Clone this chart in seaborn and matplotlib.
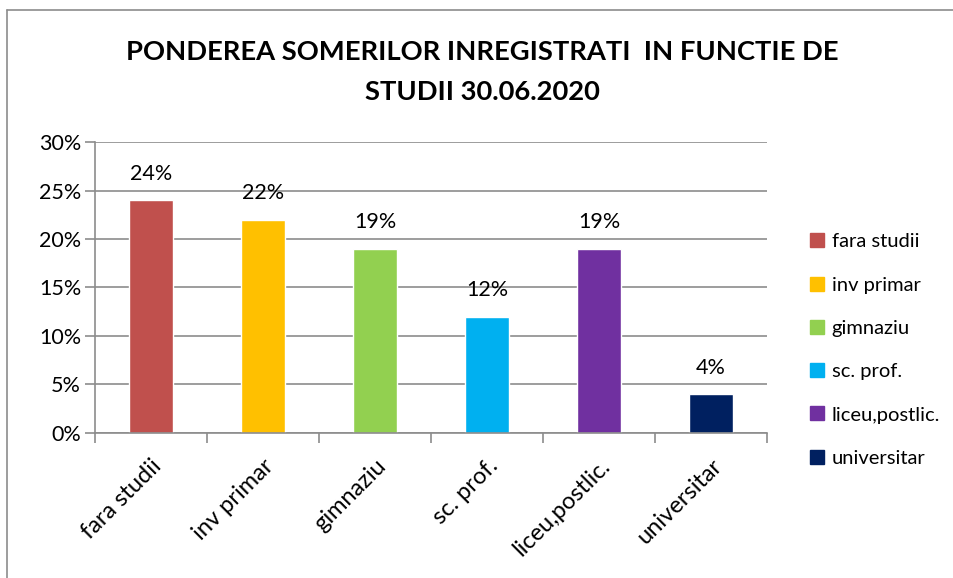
import pandas as pd
import seaborn as sns
import matplotlib.pyplot as plt
from matplotlib.lines import Line2D
from matplotlib.ticker import PercentFormatter

# values
categories = ['fara studii', 'inv primar', 'gimnaziu', 'sc. prof.', 'liceu,postlic.', 'universitar']
shares = [0.24, 0.22, 0.19, 0.12, 0.19, 0.04]
bar_colors = ['#C0504D', '#FFC000', '#92D050', '#00B0F0', '#7030A0', '#002060']
title = 'PONDEREA SOMERILOR INREGISTRATI  IN FUNCTIE DE\nSTUDII 30.06.2020'

data = pd.DataFrame({'studii': categories, 'pondere': shares})

sns.set_style('white')
plt.rcParams['font.family'] = ['Lato', 'DejaVu Sans']
plt.rcParams['text.color'] = 'black'
plt.rcParams['xtick.labelcolor'] = 'black'
plt.rcParams['ytick.labelcolor'] = 'black'

fig = plt.figure(figsize=(9.54, 5.78), dpi=100)
ax = fig.add_axes([0.0996, 0.2509, 0.7044, 0.5034])

sns.barplot(data=data, x='studii', y='pondere', hue='studii', palette=bar_colors,
            dodge=False, width=0.4, saturation=1, ax=ax, legend=True)

ax.set_ylim(0, 0.30)
ax.set_xlim(-0.5, len(categories) - 0.5)
ax.set_yticks([0, 0.05, 0.10, 0.15, 0.20, 0.25, 0.30])
ax.yaxis.set_major_formatter(PercentFormatter(1.0, decimals=0))
ax.grid(axis='y', color='#8c8c8c', linewidth=1.2)
ax.set_axisbelow(True)
ax.set_xlabel('')
ax.set_ylabel('')

for side in ['top', 'right']:
    ax.spines[side].set_visible(False)
for side in ['left', 'bottom']:
    ax.spines[side].set_color('#8c8c8c')
    ax.spines[side].set_linewidth(1.2)

ax.tick_params(axis='y', which='major', length=7, width=1.2, color='#8c8c8c',
               labelsize=15.5, pad=3, left=True)
ax.set_xticks(range(len(categories)))
ax.set_xticklabels(categories, rotation=45, ha='right', rotation_mode='anchor')
ax.tick_params(axis='x', which='major', length=0, labelsize=17, pad=16)
ax.set_xticks([i - 0.5 for i in range(len(categories) + 1)], minor=True)
ax.tick_params(axis='x', which='minor', length=7, width=1.2, color='#8c8c8c', bottom=True)

for c in ax.containers:
    ax.bar_label(c, labels=[f'{v*100:.0f}%' for v in c.datavalues], padding=12,
                 fontsize=15.5, color='black')

handles = [Line2D([0], [0], marker='s', linestyle='', markersize=10,
                  markerfacecolor=col, markeredgecolor=col) for col in bar_colors]
ax.legend(handles, categories, loc='center left', bbox_to_anchor=(1.05, 0.285),
          frameon=False, fontsize=14.5, labelspacing=1.3, handlelength=0.8,
          handletextpad=0.35, borderaxespad=0)

fig.text(0.506, 0.875, title, ha='center', va='center', fontsize=19.7,
         fontweight='bold', linespacing=1.8)

# chart border (left and top edges visible)
fig.add_artist(Line2D([7 / 954, 7 / 954], [0, 1 - 10 / 578], transform=fig.transFigure,
                      color='#8c8c8c', linewidth=1.2))
fig.add_artist(Line2D([7 / 954, 1], [1 - 10 / 578, 1 - 10 / 578], transform=fig.transFigure,
                      color='#8c8c8c', linewidth=1.2))

fig.savefig('out.png', dpi=100)
